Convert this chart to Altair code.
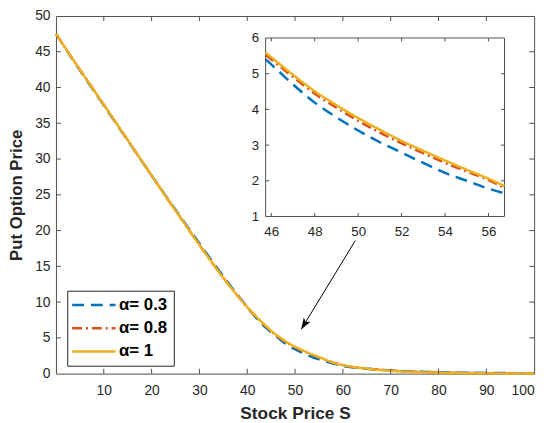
import math
import altair as alt
import pandas as pd

# ---------------- data ----------------
S = [0, 5, 10, 15, 20, 25, 30, 35, 40, 42, 44, 45.74, 46, 47, 48, 49, 50, 51, 52, 53,
     54, 55, 56, 56.74, 58, 60, 65, 70, 75, 80, 85, 90, 95, 100]
P_03 = [47.5, 42.4, 37.5, 32.6, 27.7, 22.9, 18.2, 13.6, 9.3, 7.7, 6.35, 5.40, 5.26, 4.70,
        4.19, 3.78, 3.41, 3.08, 2.79, 2.50, 2.22, 2.00, 1.78, 1.65, 1.40, 1.08, 0.68,
        0.45, 0.30, 0.20, 0.14, 0.10, 0.07, 0.05]
P_08 = [47.5, 42.5, 37.6, 32.65, 27.7, 22.8, 18.0, 13.4, 9.3, 7.85, 6.55, 5.53, 5.40, 4.91,
        4.44, 4.05, 3.68, 3.35, 3.05, 2.77, 2.50, 2.26, 2.02, 1.80, 1.52, 1.18, 0.72,
        0.44, 0.27, 0.16, 0.10, 0.07, 0.05, 0.04]
P_1 = [47.5, 42.5, 37.6, 32.65, 27.7, 22.8, 18.0, 13.4, 9.3, 7.9, 6.6, 5.59, 5.46, 4.97,
       4.51, 4.12, 3.76, 3.43, 3.12, 2.84, 2.57, 2.31, 2.06, 1.85, 1.55, 1.20, 0.70,
       0.40, 0.22, 0.12, 0.07, 0.04, 0.02, 0.01]

SERIES = ["α= 0.3", "α= 0.8", "α= 1"]
COLORS = ["#0072BD", "#D95319", "#EDB120"]
DASHES = [[12, 7], [10, 4, 2, 4], [1, 0]]

X_DOMAIN = [0, 100]
Y_DOMAIN = [0, 50]
X_TICKS = [10, 20, 30, 40, 50, 60, 70, 80, 90, 100]
Y_TICKS = [0, 5, 10, 15, 20, 25, 30, 35, 40, 45, 50]

INSET_X_DOMAIN = [45.74, 56.74]
INSET_Y_DOMAIN = [1, 6]
INSET_X_TICKS = [46, 48, 50, 52, 54, 56]
INSET_Y_TICKS = [1, 2, 3, 4, 5, 6]

ARROW_FROM = [62.6, 18.6]
ARROW_TO = [51.3, 6.2]

# ---------------- layout / style ----------------
W, H = 484.4, 362.3
INSET_PX_X = [212.4, 454.4]
INSET_PX_Y = [203.1, 22.3]
AX = "#4d4d4d"
TXT = "#262626"
FONT = "Liberation Sans"
TICK_LEN = 5
ITICK_LEN = 3.5

rows = []
for name, vals in zip(SERIES, [P_03, P_08, P_1]):
    for s, p in zip(S, vals):
        rows.append({"S": s, "P": p, "alpha": name})
df = pd.DataFrame(rows)

color_scale = alt.Scale(domain=SERIES, range=COLORS)
dash_scale = alt.Scale(domain=SERIES, range=DASHES)

legend = alt.Legend(
    title=None, orient="none", legendX=11.4, legendY=278.3,
    symbolType="M-4,0L4,0", symbolSize=121, symbolStrokeWidth=2.5,
    symbolOffset=12.5, labelOffset=17,
    labelFont=FONT, labelFontSize=17, labelFontWeight="bold", labelColor="black",
    strokeColor=TXT, fillColor="white", padding=6, rowPadding=5.5,
)


def xm():
    return alt.Scale(domain=X_DOMAIN, nice=False, zero=False)


def ym():
    return alt.Scale(domain=Y_DOMAIN, nice=False, zero=False)


def xi():
    return alt.Scale(domain=INSET_X_DOMAIN, range=INSET_PX_X, nice=False, zero=False)


def yi():
    return alt.Scale(domain=INSET_Y_DOMAIN, range=INSET_PX_Y, nice=False, zero=False)


# ---------------- main plot ----------------
main_lines = alt.Chart(df).mark_line(strokeWidth=2.5, interpolate="monotone").encode(
    x=alt.X("S:Q", scale=xm(), axis=alt.Axis(
        values=X_TICKS, title="Stock Price S", grid=False, domain=False, ticks=False,
        labelPadding=10, labelFontSize=14, labelFont=FONT, labelColor=TXT,
        titleFont=FONT, titleFontSize=17.5, titleFontWeight="bold", titleColor=TXT,
        titlePadding=7)),
    y=alt.Y("P:Q", scale=ym(), axis=alt.Axis(
        values=Y_TICKS, title="Put Option Price", grid=False, domain=False, ticks=False,
        labelPadding=6, labelFontSize=14, labelFont=FONT, labelColor=TXT,
        titleFont=FONT, titleFontSize=17, titleFontWeight="bold", titleColor=TXT,
        titlePadding=9)),
    color=alt.Color("alpha:N", scale=color_scale, legend=legend),
    strokeDash=alt.StrokeDash("alpha:N", scale=dash_scale, legend=legend),
)

xt_df = pd.DataFrame({"t": [v for v in X_TICKS if X_DOMAIN[0] < v < X_DOMAIN[1]]})
yt_df = pd.DataFrame({"t": [v for v in Y_TICKS if Y_DOMAIN[0] < v < Y_DOMAIN[1]]})


def vticks(data, xscale, yscale, ydatum, length, off):
    return alt.Chart(data).mark_tick(orient="vertical", size=length, thickness=1,
                                     color=AX, yOffset=off, opacity=1).encode(
        x=alt.X("t:Q", scale=xscale, axis=None),
        y=alt.YDatum(ydatum, scale=yscale, axis=None),
    )


def hticks(data, xscale, yscale, xdatum, length, off):
    return alt.Chart(data).mark_tick(orient="horizontal", size=length, thickness=1,
                                     color=AX, xOffset=off, opacity=1).encode(
        y=alt.Y("t:Q", scale=yscale, axis=None),
        x=alt.XDatum(xdatum, scale=xscale, axis=None),
    )


main_ticks = [
    vticks(xt_df, xm(), ym(), Y_DOMAIN[0], TICK_LEN, -TICK_LEN / 2),
    vticks(xt_df, xm(), ym(), Y_DOMAIN[1], TICK_LEN, TICK_LEN / 2),
    hticks(yt_df, xm(), ym(), X_DOMAIN[0], TICK_LEN, TICK_LEN / 2),
    hticks(yt_df, xm(), ym(), X_DOMAIN[1], TICK_LEN, -TICK_LEN / 2),
]

px_x = W / (X_DOMAIN[1] - X_DOMAIN[0])
px_y = H / (Y_DOMAIN[1] - Y_DOMAIN[0])
dx = (ARROW_TO[0] - ARROW_FROM[0]) * px_x
dy = -(ARROW_TO[1] - ARROW_FROM[1]) * px_y
head_angle = math.degrees(math.atan2(dx, -dy)) % 360

arrow_df = pd.DataFrame({"x": [ARROW_FROM[0]], "y": [ARROW_FROM[1]],
                         "xe": [ARROW_TO[0]], "ye": [ARROW_TO[1]]})
arrow_line = alt.Chart(arrow_df).mark_rule(color="black", strokeWidth=1).encode(
    x=alt.X("x:Q", scale=xm(), axis=None), y=alt.Y("y:Q", scale=ym(), axis=None),
    x2="xe:Q", y2="ye:Q")
arrow_head = alt.Chart(arrow_df).mark_point(
    shape="M0,0L0.8,2.3L0,1.7L-0.8,2.3Z", size=100, filled=True, color="black",
    opacity=1, angle=head_angle, strokeWidth=0).encode(
    x=alt.X("xe:Q", scale=xm(), axis=None), y=alt.Y("ye:Q", scale=ym(), axis=None))

# ---------------- inset ----------------
box_df = pd.DataFrame({"x0": [INSET_X_DOMAIN[0]], "x1": [INSET_X_DOMAIN[1]],
                       "y0": [INSET_Y_DOMAIN[0]], "y1": [INSET_Y_DOMAIN[1]]})
inset_box = alt.Chart(box_df).mark_rect(fill="white", stroke=AX, strokeWidth=1).encode(
    x=alt.X("x0:Q", scale=xi(), axis=alt.Axis(
        values=INSET_X_TICKS, title=None, grid=False, domain=False, ticks=False,
        orient="bottom", offset=-(H - INSET_PX_Y[0]), labelPadding=8, labelFontSize=13.5,
        labelFont=FONT, labelColor=TXT)),
    x2="x1:Q",
    y=alt.Y("y0:Q", scale=yi(), axis=alt.Axis(
        values=INSET_Y_TICKS, title=None, grid=False, domain=False, ticks=False,
        orient="left", offset=-INSET_PX_X[0], labelPadding=7, labelFontSize=13.5,
        labelFont=FONT, labelColor=TXT)),
    y2="y1:Q",
)

inset_lines = alt.Chart(df).transform_filter(
    alt.FieldRangePredicate(field="S", range=INSET_X_DOMAIN)
).mark_line(strokeWidth=2.5, interpolate="monotone").encode(
    x=alt.X("S:Q", scale=xi(), axis=None),
    y=alt.Y("P:Q", scale=yi(), axis=None),
    color=alt.Color("alpha:N", scale=color_scale, legend=None),
    strokeDash=alt.StrokeDash("alpha:N", scale=dash_scale, legend=None),
)

ixt_df = pd.DataFrame({"t": [v for v in INSET_X_TICKS
                             if INSET_X_DOMAIN[0] < v < INSET_X_DOMAIN[1]]})
iyt_df = pd.DataFrame({"t": [v for v in INSET_Y_TICKS
                             if INSET_Y_DOMAIN[0] < v < INSET_Y_DOMAIN[1]]})
inset_ticks = [
    vticks(ixt_df, xi(), yi(), INSET_Y_DOMAIN[0], ITICK_LEN, -ITICK_LEN / 2),
    vticks(ixt_df, xi(), yi(), INSET_Y_DOMAIN[1], ITICK_LEN, ITICK_LEN / 2),
    hticks(iyt_df, xi(), yi(), INSET_X_DOMAIN[0], ITICK_LEN, ITICK_LEN / 2),
    hticks(iyt_df, xi(), yi(), INSET_X_DOMAIN[1], ITICK_LEN, -ITICK_LEN / 2),
]

chart = alt.layer(
    main_lines, *main_ticks, arrow_line, arrow_head,
    inset_box, inset_lines, *inset_ticks,
).resolve_scale(
    x="independent", y="independent", color="independent", strokeDash="independent"
).properties(
    width=W, height=H,
    autosize=alt.AutoSizeParams(type="none"),
    padding={"left": 48.6, "top": 5.4, "right": 10, "bottom": 47},
    background="white",
).configure_view(stroke=AX, strokeWidth=1)

chart.save("out.html", embed_options={"renderer": "svg", "actions": False})
